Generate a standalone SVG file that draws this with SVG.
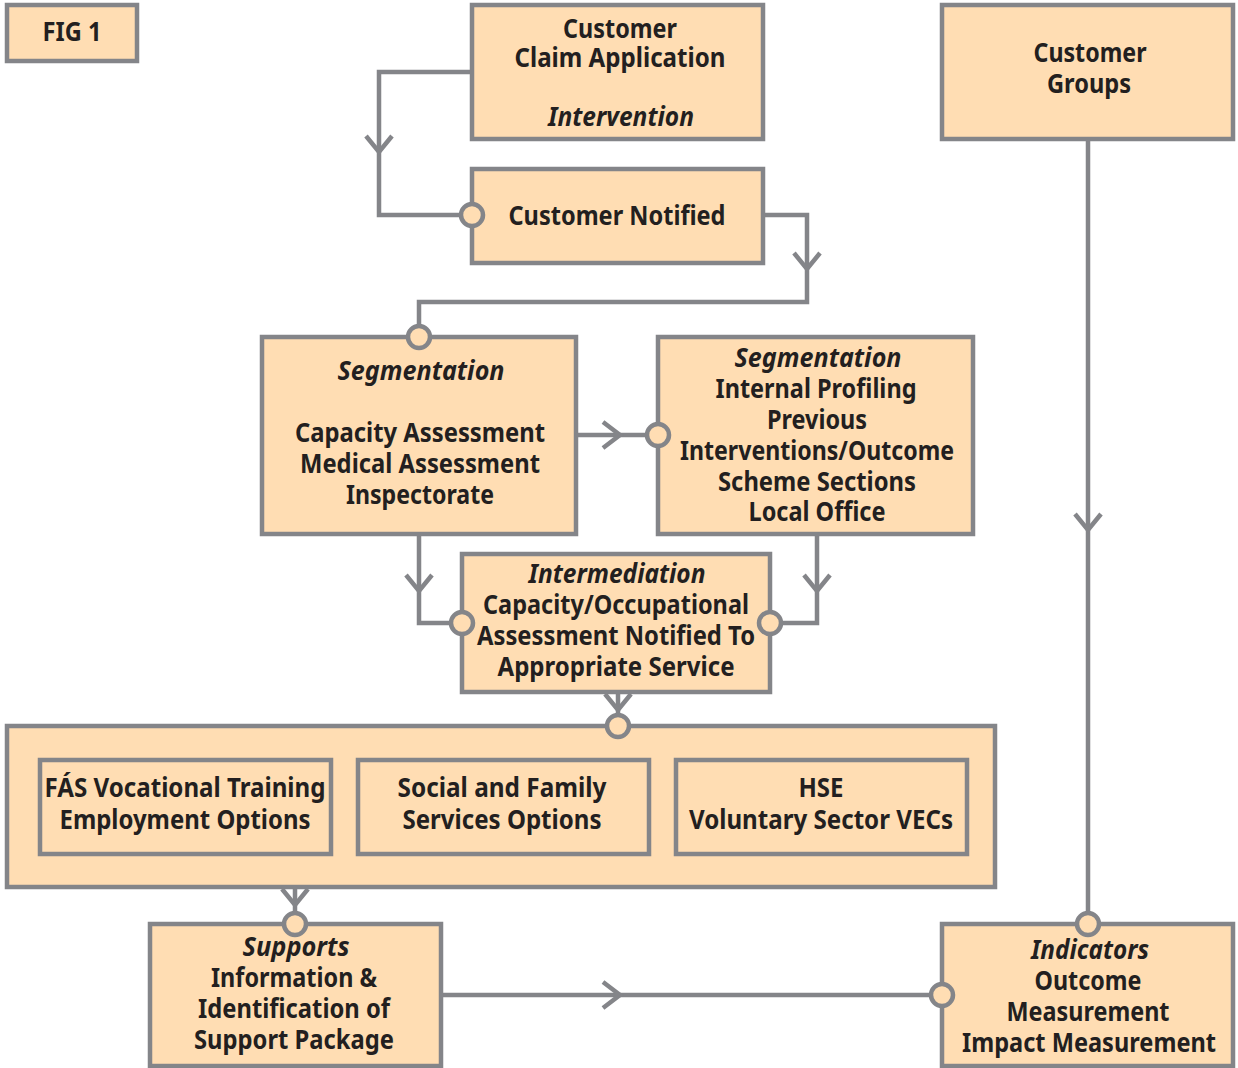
<svg xmlns="http://www.w3.org/2000/svg" width="1238" height="1068" viewBox="0 0 1238 1068">
<style>
.box{fill:#FFDDB3;stroke:#848589;stroke-width:4.5}
.ln{fill:none;stroke:#848589;stroke-width:4.5}
.dot{fill:#FFDDB3;stroke:#848589;stroke-width:4.5}
text{font-family:"Noto Sans","DejaVu Sans",sans-serif;font-weight:bold;font-size:27px;fill:#231F20;text-anchor:middle}
.it{font-style:italic}
</style>
<defs>
<path id="chevD" d="M-13,-16 L0,0 L13,-16" class="ln"/>
<path id="chevR" d="M-17,-13 L0,0 L-17,13" class="ln"/>
</defs>
<rect width="1238" height="1068" fill="#fff"/>

<g id="connectors">
<path class="ln" d="M472,72 H379 V215 H472"/>
<use href="#chevD" x="379" y="152"/>
<path class="ln" d="M763,215 H807 V302 H419 V337"/>
<use href="#chevD" x="807" y="269"/>
<path class="ln" d="M576,435 H658"/>
<use href="#chevR" x="620" y="435"/>
<path class="ln" d="M419,534 V623 H462"/>
<use href="#chevD" x="419" y="591"/>
<path class="ln" d="M817,534 V623 H770"/>
<use href="#chevD" x="817" y="591"/>
<path class="ln" d="M618,692 V726"/>
<use href="#chevD" x="618" y="710"/>
<path class="ln" d="M295,887 V924"/>
<use href="#chevD" x="295" y="905"/>
<path class="ln" d="M441,995 H942"/>
<use href="#chevR" x="620" y="995"/>
<path class="ln" d="M1088,139 V924"/>
<use href="#chevD" x="1088" y="530"/>
</g>

<g id="fig1"><rect class="box" x="7" y="5" width="130" height="56"/><text x="72" y="41" textLength="59" lengthAdjust="spacingAndGlyphs">FIG 1</text></g>

<g id="claim"><rect class="box" x="472" y="5" width="291" height="134"/>
<text x="620" y="38" textLength="114" lengthAdjust="spacingAndGlyphs">Customer</text>
<text x="620" y="67" textLength="211" lengthAdjust="spacingAndGlyphs">Claim Application</text>
<text class="it" x="621" y="126" textLength="146" lengthAdjust="spacingAndGlyphs">Intervention</text></g>

<g id="groups"><rect class="box" x="942" y="5" width="291" height="134"/>
<text x="1090" y="62" textLength="113" lengthAdjust="spacingAndGlyphs">Customer</text>
<text x="1089" y="93" textLength="84" lengthAdjust="spacingAndGlyphs">Groups</text></g>

<g id="notified"><rect class="box" x="472" y="169" width="291" height="94"/>
<text x="617" y="225" textLength="217" lengthAdjust="spacingAndGlyphs">Customer Notified</text></g>

<g id="segLeft"><rect class="box" x="262" y="337" width="314" height="197"/>
<text class="it" x="421" y="380" textLength="167" lengthAdjust="spacingAndGlyphs">Segmentation</text>
<text x="420" y="442" textLength="250" lengthAdjust="spacingAndGlyphs">Capacity Assessment</text>
<text x="420" y="473" textLength="240" lengthAdjust="spacingAndGlyphs">Medical Assessment</text>
<text x="420" y="504" textLength="148" lengthAdjust="spacingAndGlyphs">Inspectorate</text></g>

<g id="segRight"><rect class="box" x="658" y="337" width="315" height="197"/>
<text class="it" x="818" y="367" textLength="167" lengthAdjust="spacingAndGlyphs">Segmentation</text>
<text x="816" y="398" textLength="201" lengthAdjust="spacingAndGlyphs">Internal Profiling</text>
<text x="817" y="429" textLength="100" lengthAdjust="spacingAndGlyphs">Previous</text>
<text x="817" y="460" textLength="274" lengthAdjust="spacingAndGlyphs">Interventions/Outcome</text>
<text x="817" y="491" textLength="198" lengthAdjust="spacingAndGlyphs">Scheme Sections</text>
<text x="817" y="521" textLength="137" lengthAdjust="spacingAndGlyphs">Local Office</text></g>

<g id="intermediation"><rect class="box" x="462" y="554" width="308" height="138"/>
<text class="it" x="617" y="583" textLength="177" lengthAdjust="spacingAndGlyphs">Intermediation</text>
<text x="616" y="614" textLength="266" lengthAdjust="spacingAndGlyphs">Capacity/Occupational</text>
<text x="616" y="645" textLength="278" lengthAdjust="spacingAndGlyphs">Assessment Notified To</text>
<text x="616" y="676" textLength="237" lengthAdjust="spacingAndGlyphs">Appropriate Service</text></g>

<g id="services"><rect class="box" x="7" y="726" width="988" height="161"/>
<g id="fas"><rect class="box" x="40" y="760" width="291" height="94"/>
<text x="185" y="797" textLength="281" lengthAdjust="spacingAndGlyphs">FÁS Vocational Training</text>
<text x="185" y="829" textLength="251" lengthAdjust="spacingAndGlyphs">Employment Options</text></g>
<g id="social"><rect class="box" x="358" y="760" width="291" height="94"/>
<text x="502" y="797" textLength="209" lengthAdjust="spacingAndGlyphs">Social and Family</text>
<text x="502" y="829" textLength="199" lengthAdjust="spacingAndGlyphs">Services Options</text></g>
<g id="hse"><rect class="box" x="676" y="760" width="291" height="94"/>
<text x="821" y="797" textLength="45" lengthAdjust="spacingAndGlyphs">HSE</text>
<text x="821" y="829" textLength="264" lengthAdjust="spacingAndGlyphs">Voluntary Sector VECs</text></g>
</g>

<g id="supports"><rect class="box" x="150" y="924" width="291" height="142"/>
<text class="it" x="296" y="956" textLength="107" lengthAdjust="spacingAndGlyphs">Supports</text>
<text x="294" y="987" textLength="166" lengthAdjust="spacingAndGlyphs">Information &amp;</text>
<text x="294" y="1018" textLength="192" lengthAdjust="spacingAndGlyphs">Identification of</text>
<text x="294" y="1049" textLength="200" lengthAdjust="spacingAndGlyphs">Support Package</text></g>

<g id="indicators"><rect class="box" x="942" y="924" width="291" height="142"/>
<text class="it" x="1090" y="959" textLength="118" lengthAdjust="spacingAndGlyphs">Indicators</text>
<text x="1088" y="990" textLength="107" lengthAdjust="spacingAndGlyphs">Outcome</text>
<text x="1088" y="1021" textLength="163" lengthAdjust="spacingAndGlyphs">Measurement</text>
<text x="1089" y="1052" textLength="254" lengthAdjust="spacingAndGlyphs">Impact Measurement</text></g>

<g id="ports">
<circle class="dot" cx="472" cy="215" r="11"/>
<circle class="dot" cx="419" cy="337" r="11"/>
<circle class="dot" cx="658" cy="435" r="11"/>
<circle class="dot" cx="462" cy="623" r="11"/>
<circle class="dot" cx="770" cy="623" r="11"/>
<circle class="dot" cx="618" cy="726" r="11"/>
<circle class="dot" cx="295" cy="924" r="11"/>
<circle class="dot" cx="942" cy="995" r="11"/>
<circle class="dot" cx="1088" cy="924" r="11"/>
</g>
</svg>
